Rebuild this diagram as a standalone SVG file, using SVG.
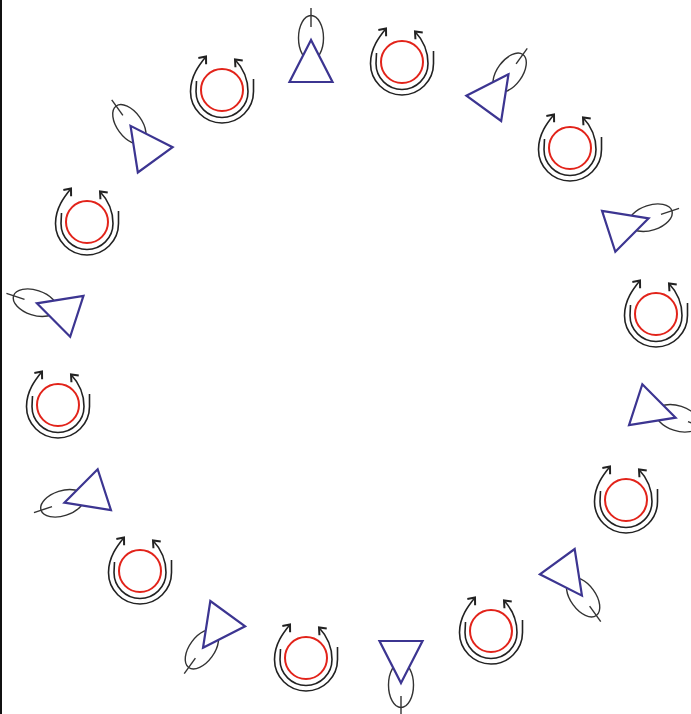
<svg xmlns="http://www.w3.org/2000/svg" xmlns:xlink="http://www.w3.org/1999/xlink" width="691" height="714" viewBox="0 0 691 714">
<style>
.red{fill:none;stroke:#e2231a;stroke-width:2}
.arc{fill:none;stroke:#222;stroke-width:1.6;marker-end:url(#ah)}
.tri{fill:#fff;stroke:#3c3591;stroke-width:2.2;stroke-linejoin:miter}
.leaf{fill:none;stroke:#333;stroke-width:1.4}
</style>
<defs>
<marker id="ah" viewBox="-8 -7 10 14" refX="0" refY="0" markerWidth="10" markerHeight="14" markerUnits="userSpaceOnUse" orient="auto">
<path d="M-6,-5 L0,0 L-6,5" fill="none" stroke="#222" stroke-width="2"/>
</marker>
<g id="icon">
<circle class="red" cx="0" cy="0" r="21"/>
<path class="arc" d="M31.5,-11 L31.5,1.5 A31.5,31.5 0 0 1 -31.5,1.5 C-31.5,-14 -22.5,-25.5 -16,-33.5"/>
<path class="arc" d="M-25.5,-9 L-26,1.5 A26,26 0 0 0 26,1.5 C26,-12 20,-23 13,-30.5"/>
</g>
<g id="unit">
<ellipse class="leaf" cx="0" cy="-30" rx="12.5" ry="22.5"/>
<line class="leaf" x1="0" y1="-41" x2="0" y2="-60"/>
<polygon class="tri" points="0,-28 -21.5,14 21.5,14"/>
</g>
</defs>
<rect x="0" y="0" width="691" height="714" fill="#fff"/>
<line x1="1" y1="0" x2="1" y2="714" stroke="#111" stroke-width="2"/>
<g id="connectors"/>
<g id="unit0" transform="translate(311,68) rotate(0)"><use xlink:href="#unit"/></g>
<g id="unit1" transform="translate(492,97) rotate(36)"><use xlink:href="#unit"/></g>
<g id="unit2" transform="translate(622,227) rotate(72)"><use xlink:href="#unit"/></g>
<g id="unit3" transform="translate(649,409) rotate(108)"><use xlink:href="#unit"/></g>
<g id="unit4" transform="translate(565.5,573) rotate(144)"><use xlink:href="#unit"/></g>
<g id="unit5" transform="translate(401,655) rotate(180)"><use xlink:href="#unit"/></g>
<g id="unit6" transform="translate(219.5,625) rotate(216)"><use xlink:href="#unit"/></g>
<g id="unit7" transform="translate(91,494) rotate(252)"><use xlink:href="#unit"/></g>
<g id="unit8" transform="translate(63.5,312) rotate(288)"><use xlink:href="#unit"/></g>
<g id="unit9" transform="translate(147,148.5) rotate(324)"><use xlink:href="#unit"/></g>
<g id="icon0" transform="translate(402,62)"><use xlink:href="#icon"/></g>
<g id="icon1" transform="translate(570,148)"><use xlink:href="#icon"/></g>
<g id="icon2" transform="translate(656,314)"><use xlink:href="#icon"/></g>
<g id="icon3" transform="translate(626,500)"><use xlink:href="#icon"/></g>
<g id="icon4" transform="translate(491,631)"><use xlink:href="#icon"/></g>
<g id="icon5" transform="translate(306,658)"><use xlink:href="#icon"/></g>
<g id="icon6" transform="translate(140,571)"><use xlink:href="#icon"/></g>
<g id="icon7" transform="translate(58,405)"><use xlink:href="#icon"/></g>
<g id="icon8" transform="translate(87,222)"><use xlink:href="#icon"/></g>
<g id="icon9" transform="translate(222,90)"><use xlink:href="#icon"/></g>
</svg>
